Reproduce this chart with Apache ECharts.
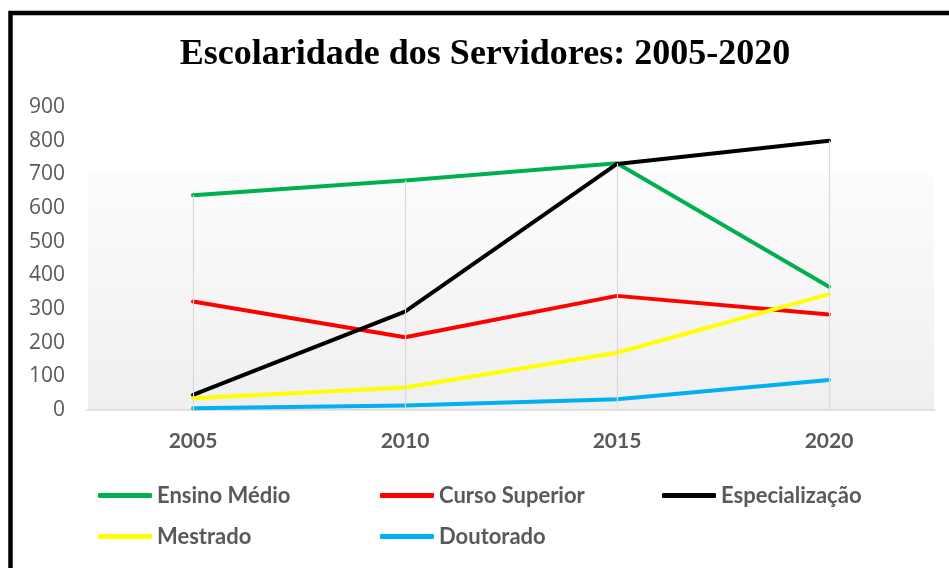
<!DOCTYPE html>
<html>
<head>
<meta charset="utf-8">
<script src="https://cdn.jsdelivr.net/npm/echarts@6/dist/echarts.min.js"></script>
<style>
html,body{margin:0;padding:0;background:#fff;}
#c{width:949px;height:568px;}
</style>
</head>
<body>
<div id="c"></div>
<script>
const categories = ['2005', '2010', '2015', '2020'];
const seriesNames = ['Ensino Médio', 'Curso Superior', 'Especialização', 'Mestrado', 'Doutorado'];
const ensinoMedio = [638, 682, 733, 366];
const cursoSuperior = [322, 216, 339, 284];
const especializacao = [45, 292, 731, 800];
const mestrado = [35, 67, 170, 344];
const doutorado = [5, 13, 32, 89];
const yMin = 0, yMax = 900, yStep = 100;
const titleText = 'Escolaridade dos Servidores: 2005-2020';

const seriesData = [ensinoMedio, cursoSuperior, especializacao, mestrado, doutorado];
const colors = ['#00b050', '#ff0000', '#000000', '#ffff00', '#00b0f0'];
const dropTops = categories.map((c, i) => Math.max.apply(null, seriesData.map(s => s[i])));

const chart = echarts.init(document.getElementById('c'), null, {renderer: 'canvas'});
const GRID_L = 87, GRID_R = 14, GRID_T = 107, GRID_B = 158;

const lineSeries = seriesNames.map((name, k) => ({
  name: name,
  type: 'line',
  data: seriesData[k],
  symbol: 'none',
  z: 3,
  lineStyle: {color: colors[k], width: 4, cap: 'round', join: 'round'},
  itemStyle: {color: colors[k]},
  emphasis: {disabled: true},
  animation: false
}));

const dropSeries = {
  name: 'drop',
  type: 'line',
  data: dropTops,
  symbol: 'none',
  z: 2,
  silent: true,
  lineStyle: {opacity: 0},
  animation: false,
  markLine: {
    silent: true,
    symbol: 'none',
    animation: false,
    label: {show: false},
    lineStyle: {color: '#d9d9d9', width: 1.2, type: 'solid'},
    emphasis: {disabled: true},
    data: dropTops.map((v, i) => [{coord: [i, 0]}, {coord: [i, v]}])
  }
};

chart.setOption({
  animation: false,
  backgroundColor: '#ffffff',
  color: colors,
  title: {
    text: titleText,
    left: 485,
    textAlign: 'center',
    top: 37,
    padding: 0,
    textStyle: {fontFamily: 'Liberation Serif', fontWeight: 'bold', fontSize: 36, color: '#000'}
  },
  grid: {left: GRID_L, right: GRID_R, top: GRID_T, bottom: GRID_B, containLabel: false},
  xAxis: {
    type: 'category',
    data: categories,
    boundaryGap: true,
    axisLine: {show: true, lineStyle: {color: '#d9d9d9', width: 1.5}},
    axisTick: {show: false},
    splitLine: {show: false},
    axisLabel: {margin: 21, fontFamily: 'Lato', fontWeight: 'bold', fontSize: 21, color: '#595959'}
  },
  yAxis: {
    type: 'value',
    min: yMin, max: yMax, interval: yStep,
    axisLine: {show: false},
    axisTick: {show: false},
    splitLine: {show: false},
    axisLabel: {margin: 22, fontFamily: 'Open Sans', fontSize: 21, color: '#595959'}
  },
  legend: {
    data: seriesNames,
    left: 98,
    top: 475,
    width: 850,
    padding: 0,
    itemGap: 0,
    itemWidth: 54,
    itemHeight: 5,
    icon: 'roundRect',
    selectedMode: false,
    textStyle: {fontFamily: 'Lato', fontWeight: 'bold', fontSize: 22, color: '#595959', width: 223, lineHeight: 41}
  },
  series: [dropSeries].concat(lineSeries)
});

const yTop = chart.convertToPixel({yAxisIndex: 0}, 700);
const yBot = chart.convertToPixel({yAxisIndex: 0}, 0);
chart.setOption({
  graphic: [
    {
      type: 'rect',
      z: -10,
      silent: true,
      shape: {x: GRID_L + 1, y: yTop, width: 949 - GRID_R - GRID_L - 2, height: yBot - yTop},
      style: {
        fill: new echarts.graphic.LinearGradient(0, 0, 0, 1, [
          {offset: 0, color: '#fcfcfc'},
          {offset: 1, color: '#efefef'}
        ])
      }
    },
    {
      type: 'rect',
      z: 100,
      silent: true,
      shape: {x: 10.5, y: 13, width: 1000, height: 1000},
      style: {fill: 'none', stroke: '#000', lineWidth: 4.5}
    }
  ]
});
</script>
</body>
</html>
